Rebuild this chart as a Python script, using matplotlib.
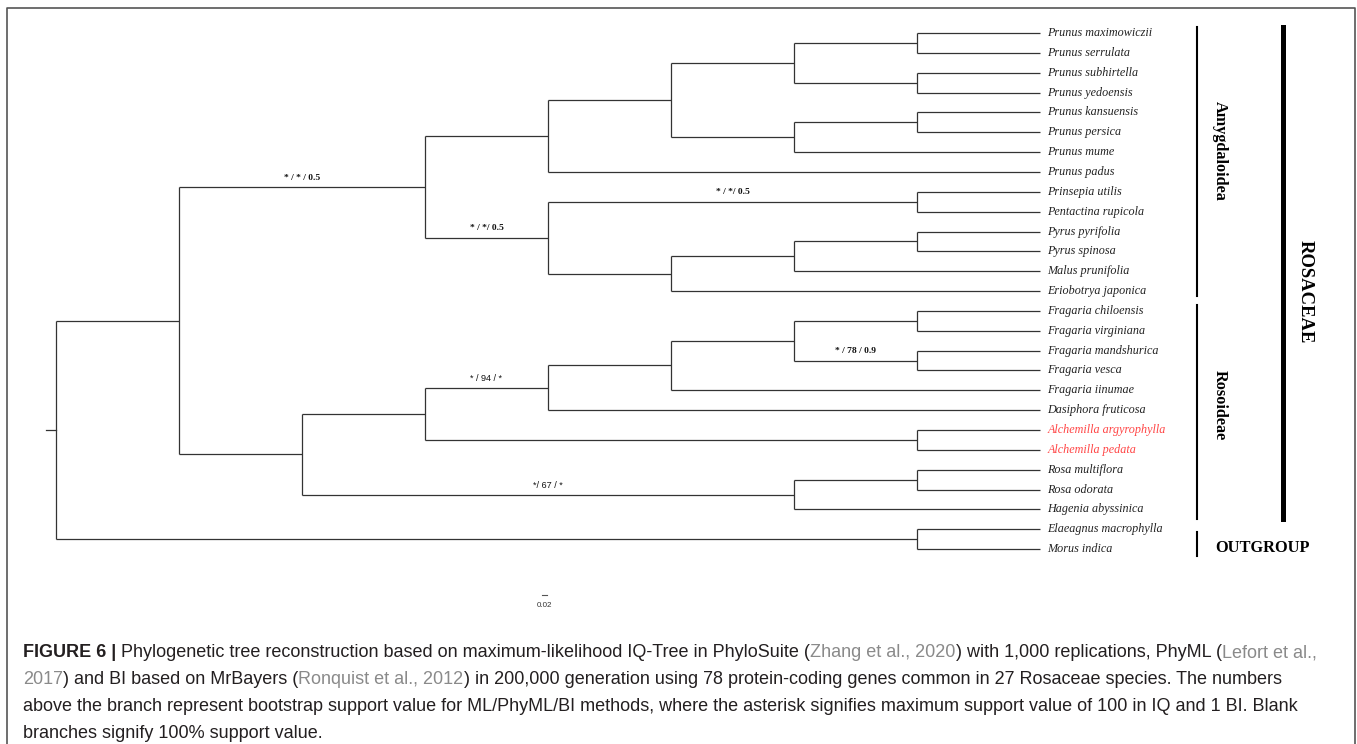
import matplotlib
matplotlib.use("Agg")
import matplotlib.pyplot as plt

# tip labels, top to bottom
tips = ["Prunus maximowiczii", "Prunus serrulata", "Prunus subhirtella", "Prunus yedoensis",
        "Prunus kansuensis", "Prunus persica", "Prunus mume", "Prunus padus",
        "Prinsepia utilis", "Pentactina rupicola", "Pyrus pyrifolia", "Pyrus spinosa",
        "Malus prunifolia", "Eriobotrya japonica", "Fragaria chiloensis", "Fragaria virginiana",
        "Fragaria mandshurica", "Fragaria vesca", "Fragaria iinumae", "Dasiphora fruticosa",
        "Alchemilla argyrophylla", "Alchemilla pedata", "Rosa multiflora", "Rosa odorata",
        "Hagenia abyssinica", "Elaeagnus macrophylla", "Morus indica"]
red_tips = ["Alchemilla argyrophylla", "Alchemilla pedata"]

# (node depth, children, support label) ; ints are tip indices
tree = (0, [
    (1, [
        (3, [
            (4, [
                (5, [
                    (6, [(7, [0, 1], ""), (7, [2, 3], "")], ""),
                    (6, [(7, [4, 5], ""), 6], ""),
                ], ""),
                7,
            ], ""),
            (4, [
                (7, [8, 9], "* / */ 0.5"),
                (5, [(6, [(7, [10, 11], ""), 12], ""), 13], ""),
            ], "* / */ 0.5"),
        ], "* / * / 0.5"),
        (2, [
            (3, [
                (4, [(5, [(6, [(7, [14, 15], ""), (7, [16, 17], "* / 78 / 0.9")], ""), 18], ""), 19], "* / 94 / *"),
                (7, [20, 21], ""),
            ], ""),
            (6, [(7, [22, 23], ""), 24], "*/ 67 / *"),
        ], ""),
    ], ""),
    (7, [25, 26], ""),
], "")
tip_depth = 8
bold_support = ["* / */ 0.5", "* / * / 0.5", "* / 78 / 0.9"]

# clade bars: name, first tip, last tip
clades = [("Amygdaloidea", 0, 13), ("Rosoideae", 14, 24)]
family = ("ROSACEAE", 0, 24)
outgroup = ("OUTGROUP", 25, 26)

scale_label = "0.02"

caption = [
    [("FIGURE 6 |", "b"), (" Phylogenetic tree reconstruction based on maximum-likelihood IQ-Tree in PhyloSuite (", "n"),
     ("Zhang et al., 2020", "g"), (") with 1,000 replications, PhyML (", "n"), ("Lefort et al.,", "g")],
    [("2017", "g"), (") and BI based on MrBayers (", "n"), ("Ronquist et al., 2012", "g"),
     (") in 200,000 generation using 78 protein-coding genes common in 27 Rosaceae species. The numbers", "n")],
    [("above the branch represent bootstrap support value for ML/PhyML/BI methods, where the asterisk signifies maximum support value of 100 in IQ and 1 BI. Blank", "n")],
    [("branches signify 100% support value.", "n")],
]

W, H = 1357, 744
fig = plt.figure(figsize=(W / 100, H / 100), dpi=100)
bg = fig.add_axes([0, 0, 1, 1])
bg.set_xlim(0, W)
bg.set_ylim(H, 0)
bg.axis("off")

# tree axes: depth -> x pixel, tip index -> y pixel
x0, dx = 56, 123.0
y0, dy = 33, 19.85
ax = fig.add_axes([0, 0, 1, 1])
ax.set_xlim(-x0 / dx, (W - x0) / dx)
ax.set_ylim((H - y0) / dy, -y0 / dy)
ax.axis("off")

LC = "#333333"
LW = 0.9


def draw(node, parent_depth):
    if isinstance(node, int):
        ax.plot([parent_depth, tip_depth], [node, node], color=LC, lw=LW, solid_capstyle="butt")
        name = tips[node]
        ax.text(tip_depth + 0.06, node, name, fontsize=8.7, family="Liberation Serif", style="italic",
                va="center", ha="left", color="#ff4545" if name in red_tips else "#222222")
        return node
    depth, children, label = node
    ys = [draw(c, depth) for c in children]
    ax.plot([depth, depth], [min(ys), max(ys)], color=LC, lw=LW, solid_capstyle="butt")
    y = sum(ys) / len(ys)
    if parent_depth is not None:
        ax.plot([parent_depth, depth], [y, y], color=LC, lw=LW, solid_capstyle="butt")
        if label:
            if label in bold_support:
                ax.text((parent_depth + depth) / 2, y - 0.47, label, fontsize=6.8, family="Liberation Serif",
                        weight="bold", ha="center", va="center", color="#111111")
            else:
                ax.text((parent_depth + depth) / 2, y - 0.47, label, fontsize=6.6, family="Liberation Sans",
                        ha="center", va="center", color="#111111")
    return y


root_y = draw(tree, None)
ax.plot([-0.08, 0], [root_y, root_y], color=LC, lw=LW)

# scale bar
ax.plot([3.95, 3.99], [28.3, 28.3], color="#555555", lw=0.8)
ax.text(3.97, 28.85, scale_label, fontsize=5.8, family="Liberation Sans", ha="center", va="center", color="#333333")


def ypix(i):
    return y0 + i * dy


# clade bars
label_shift = {"Amygdaloidea": -11, "Rosoideae": -5}
for name, a, b in clades:
    bg.plot([1197, 1197], [ypix(a) - 6, ypix(b) + (5 if b == 13 else 10)], color="black", lw=1.5)
    bg.text(1220, (ypix(a) + ypix(b)) / 2 + label_shift[name], name, rotation=270, fontsize=11.7,
            family="Liberation Serif", weight="bold", ha="center", va="center")
name, a, b = family
bg.plot([1283, 1283], [ypix(a) - 6, ypix(b) + 10], color="black", lw=3.6)
bg.text(1305, (ypix(a) + ypix(b)) / 2 + 20, name, rotation=270, fontsize=13.4, family="Liberation Serif",
        weight="bold", ha="center", va="center")
name, a, b = outgroup
bg.plot([1197, 1197], [ypix(a) + 3, ypix(b) + 7], color="black", lw=1.5)
bg.text(1215, ypix(b) - 1, name, fontsize=11.8, family="Liberation Serif", weight="bold", ha="left", va="center")

# frame
bg.plot([7, 7, 1355, 1355], [H + 5, 8, 8, H + 5], color="#555555", lw=1.2)

# caption
fig.canvas.draw()
r = fig.canvas.get_renderer()
CFS = 13.0
colors = {"b": "#231f20", "n": "#231f20", "g": "#8a8a8a"}


def tw(s, weight="normal"):
    t = bg.text(0, 0, s, fontsize=CFS, family="Liberation Sans", weight=weight)
    w = t.get_window_extent(r).width
    t.remove()
    return w


space = tw("a a") - tw("aa")
baselines = [657, 684, 711, 738]
for line, yb in zip(caption, baselines):
    x = 23
    for s, kind in line:
        lead = len(s) - len(s.lstrip(" "))
        x += lead * space
        s = s.strip(" ")
        wgt = "bold" if kind == "b" else "normal"
        t = bg.text(x, yb, s, fontsize=CFS, family="Liberation Sans", weight=wgt, color=colors[kind],
                    ha="left", va="baseline")
        x += t.get_window_extent(r).width

fig.savefig("out.png", dpi=100)
